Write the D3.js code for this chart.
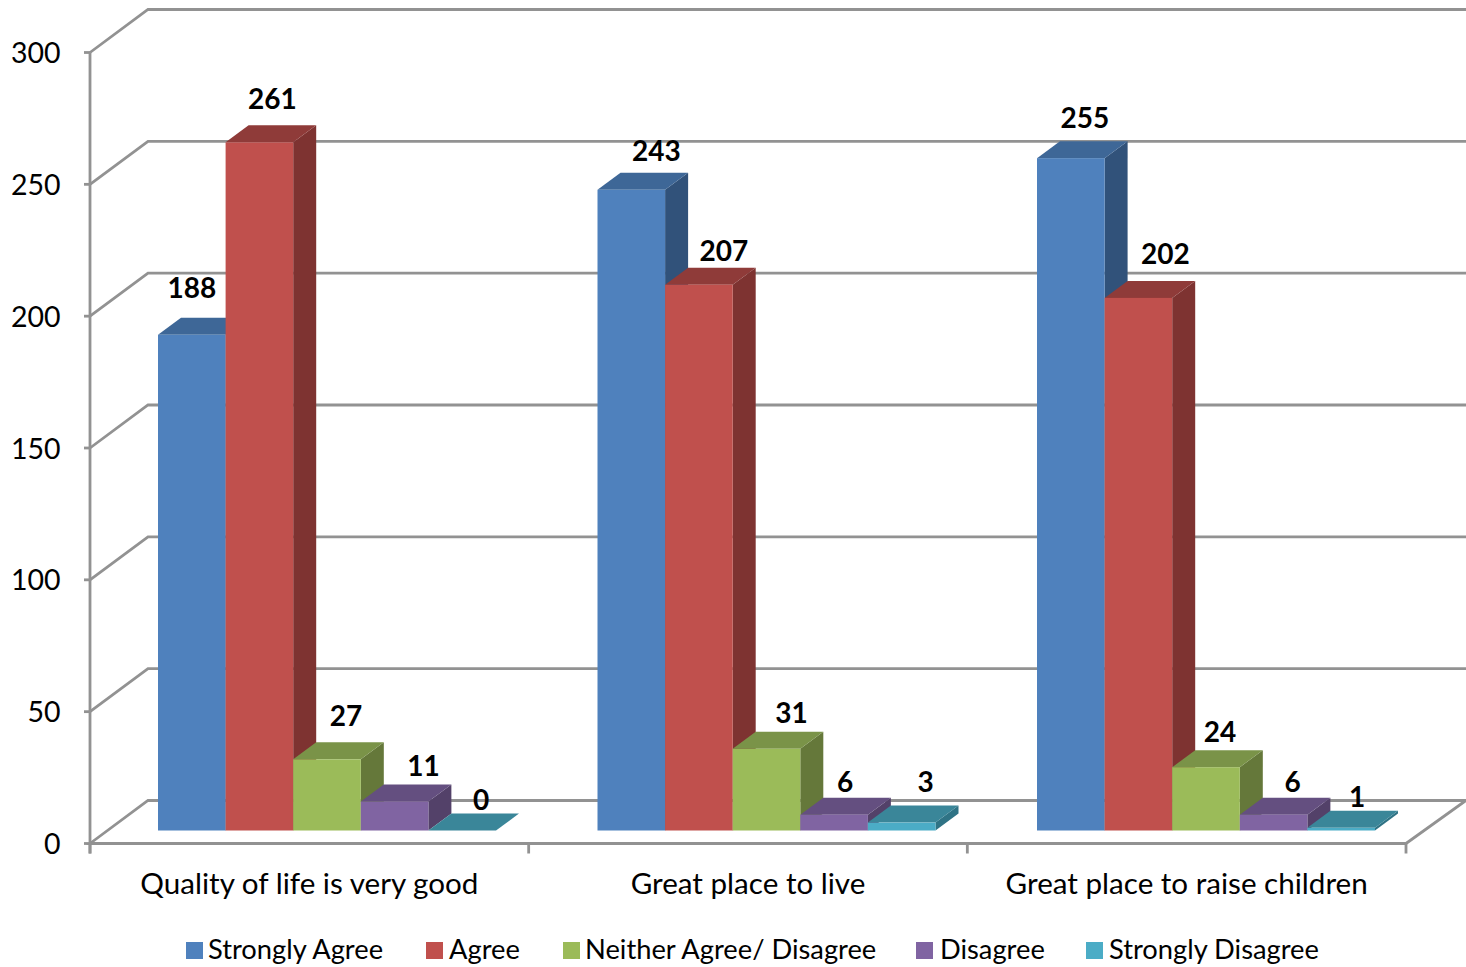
<!DOCTYPE html>
<html><head><meta charset="utf-8">
<style>html,body{margin:0;padding:0;background:#fff}svg{display:block}text{font-family:Lato,"Noto Sans",sans-serif;fill:#000}</style>
<script src="https://cdn.jsdelivr.net/npm/d3@7"></script></head><body>
<svg id="c" width="1466" height="967"></svg>
<script>
const categories = ["Quality of life is very good","Great place to live","Great place to raise children"];
const seriesNames = ["Strongly Agree","Agree","Neither Agree/ Disagree","Disagree","Strongly Disagree"];
const stronglyAgree = [188,243,255];
const agree = [261,207,202];
const neither = [27,31,24];
const disagree = [11,6,6];
const stronglyDisagree = [0,3,1];
const yTicks = [0,50,100,150,200,250,300];

// layout
const allSeries = [stronglyAgree,agree,neither,disagree,stronglyDisagree];
const front = ["#4F81BD","#C0504D","#9BBB59","#8064A2","#4BACC6"];
const topC  = ["#3E6797","#8F3B39","#7A9348","#644F80","#3A8699"];
const side  = ["#31527A","#7E3331","#65783A","#534169","#2F7385"];
const nudgeX = [[0,13,19,29,19],[25,25,25,11,24],[14,27,14,19,16]];
const nudgeY = [[-46.5,-43.5,-43.5,-35.5,-30.5],[-38.5,-33.5,-35.5,-32.5,-40.5],[-40.5,-43.5,-35.5,-32.5,-30.5]];
const legendSwatchX = [186,426,563,916,1086];
const grey = "#929292";
const wallDX = 58, wallDY = -43, barDX = 23, barDY = -17;

const svg = d3.select("#c");
const y = d3.scaleLinear().domain([0,300]).range([843.5,52.5]);
const x0 = d3.scaleBand().domain(categories).range([90,1406]);
const xBars = d3.scaleBand().domain(categories).range([90,1408.5]);
const x1 = d3.scaleBand().domain(seriesNames).range([68,68+67.6*5]);
const floorLift = 13;

const grid = svg.append("g").attr("fill","none").attr("stroke",grey).attr("stroke-width",2.8);
yTicks.forEach(t=>{
  const py=y(t);
  if(t>0) grid.append("path").attr("d",`M90,${py}L${90+wallDX},${py+wallDY}L1466,${py+wallDY}`);
  else grid.append("path").attr("d",`M90,${py}L${90+wallDX},${py+wallDY}L1466,${py+wallDY}L1406,${py}Z`);
  grid.append("line").attr("x1",84).attr("x2",90).attr("y1",py).attr("y2",py);
});
grid.append("line").attr("x1",90).attr("x2",90).attr("y1",y(300)).attr("y2",y(0)+10);
[...categories.map(c=>x0(c)),1406].forEach(px=>grid.append("line").attr("x1",px).attr("x2",px).attr("y1",y(0)).attr("y2",y(0)+10));

svg.append("g").selectAll("text").data(yTicks).join("text")
  .attr("x",60.5).attr("y",d=>y(d)+10.5).attr("text-anchor","end").attr("font-size",28.5).text(d=>d);

const bars = svg.append("g");
const labels = [];
categories.forEach((c,ci)=>{
  seriesNames.forEach((s,si)=>{
    const v = allSeries[si][ci];
    const l = xBars(c)+x1(s), w = x1.bandwidth(), r = l+w;
    const b = y(0)-floorLift, t = y(v)-floorLift;
    const g = bars.append("g");
    g.append("path").attr("fill",side[si]).attr("d",`M${r},${t}L${r+barDX},${t+barDY}L${r+barDX},${b+barDY}L${r},${b}Z`);
    g.append("path").attr("fill",topC[si]).attr("d",`M${l},${t}L${l+barDX},${t+barDY}L${r+barDX},${t+barDY}L${r},${t}Z`);
    g.append("rect").attr("x",l).attr("y",t).attr("width",w).attr("height",b-t).attr("fill",front[si]);
    labels.push({v,x:l+w/2+nudgeX[ci][si],y:t+nudgeY[ci][si]});
  });
});
svg.append("g").selectAll("text").data(labels).join("text")
  .attr("x",d=>d.x).attr("y",d=>d.y+10).attr("text-anchor","middle").attr("font-size",28).attr("font-weight",700).text(d=>d.v);

svg.append("g").selectAll("text").data(categories).join("text")
  .attr("x",d=>x0(d)+x0.bandwidth()/2).attr("y",894).attr("text-anchor","middle").attr("font-size",29.6).text(d=>d);

const lg = svg.append("g").selectAll("g").data(seriesNames).join("g");
lg.append("rect").attr("x",(d,i)=>legendSwatchX[i]).attr("y",942).attr("width",17).attr("height",17).attr("fill",(d,i)=>front[i]);
lg.append("text").attr("x",(d,i)=>legendSwatchX[i]+22+(i==1?1:0)+(i==3?2:0)+(i==4?1:0)).attr("y",959).attr("font-size",27.3).text(d=>d);
</script></body></html>
